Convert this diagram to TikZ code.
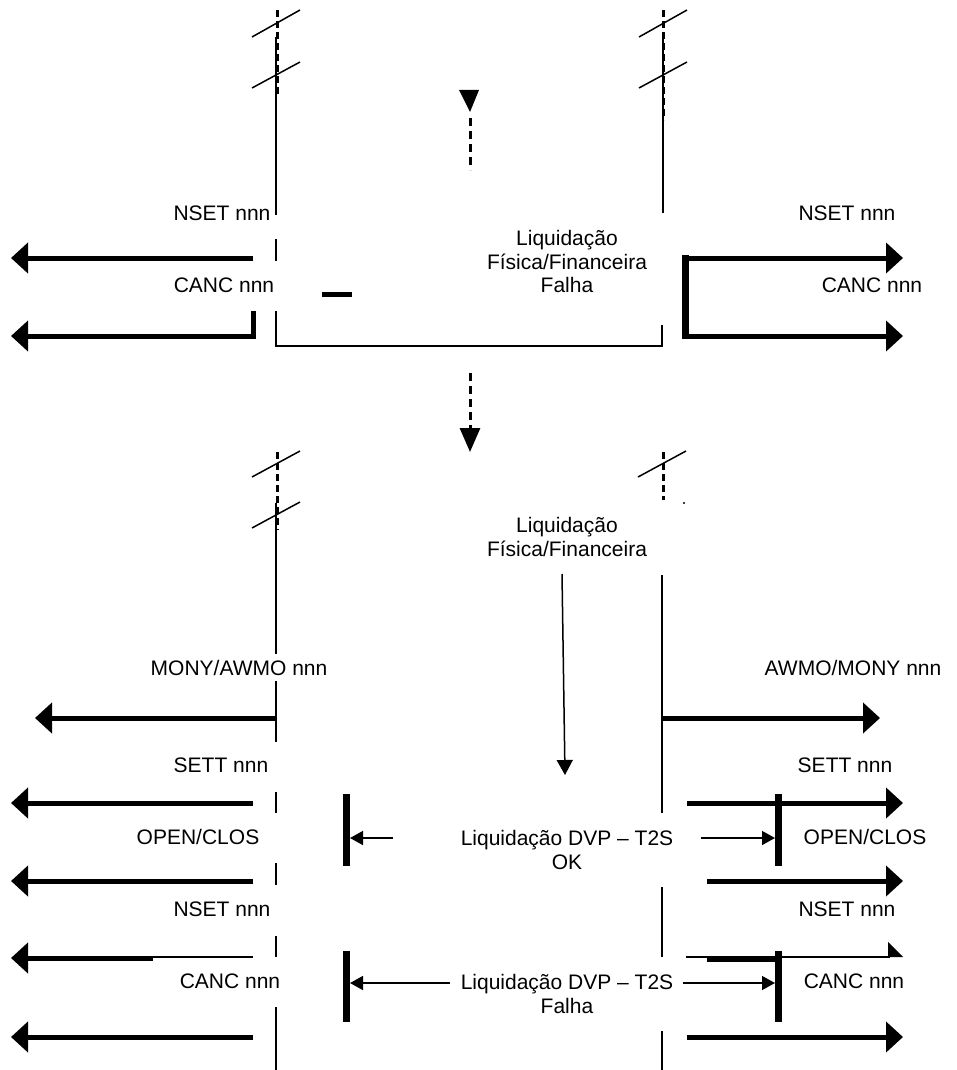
\documentclass[tikz,border=0pt]{standalone}
\usepackage{fontspec}
\setmainfont{Liberation Sans}
\usetikzlibrary{arrows.meta}
\tikzset{
	msg/.style={line width=5pt, -{Triangle[length=17pt,width=30pt]}},
	thinarr/.style={line width=1.5pt, -{Triangle[length=13pt,width=14pt]}},
	bar/.style={line width=7pt},
	life/.style={line width=1.5pt},
	dlife/.style={line width=3pt, dash pattern=on 7pt off 4pt},
	cut/.style={line width=1.5pt},
	lbl/.style={font=\fontsize{21}{24}\selectfont, inner sep=0pt, anchor=base}
}

\begin{document}
\begin{tikzpicture}[x=1pt, y=-1pt, line join=miter]
	\useasboundingbox (0,0) rectangle (957,1070);
	% \draw[gray!30] (0,0) grid[step=50] (957,1070);

	% top: lifelines with cut marks
	\draw[life] (276,37) -- (276,215);
	\draw[dlife] (277,10) -- (277,95);
	\draw[life] (663,37) -- (663,213);
	\draw[dlife] (663,10) -- (663,120);
	\foreach \cx in {276,663} {
		\draw[cut] (\cx-24,37) -- (\cx+24,10);
		\draw[cut] (\cx-24,88) -- (\cx+24,62);
	}

	% dashed arrow (down)
	\fill (459,90) -- (479,90) -- (470,112) -- cycle;
	\draw[line width=3pt, dash pattern=on 8pt off 5pt] (470,118) -- (470,170);

	% box of the failed settlement
	\draw[life] (276,239) -- (276,261);
	\draw[life] (276,311) -- (276,346) -- (662,346) -- (662,325);

	\node[lbl] (nsetTL) at (222,220) {NSET nnn};
	\node[lbl] (cancTL) at (224,292) {CANC nnn};
	\node[lbl] (nsetTR) at (847,220) {NSET nnn};
	\node[lbl] (cancTR) at (872,292) {CANC nnn};
	\node[lbl] (liqT)  at (567,245) {Liquidação};
	\node[lbl] (fisT)  at (567,269) {Física/Financeira};
	\node[lbl] (falT)  at (567,292) {Falha};

	\draw[msg] (253,258) -- (11,258);
	\draw[msg] (253,311) -- (253,336) -- (11,336);
	\draw[line width=5pt] (322,294) -- (352,294);
	\draw[msg] (685,258) -- (903,258);
	\draw[msg] (685,336) -- (903,336);
	\draw[line width=7pt] (685,255) -- (685,339);

	% second dashed arrow
	\draw[line width=3pt, dash pattern=on 8pt off 5pt, -{Triangle[length=24pt,width=20pt]}] (470,373) -- (470,452);

	% middle: lifelines with cut marks
	\draw[dlife] (277,452) -- (277,530);
	\draw[life] (276,503) -- (276,742);
	\draw[cut] (252,477) -- (300,451);
	\draw[cut] (252,528) -- (300,502);
	\draw[dlife] (663,452) -- (663,500);
	\draw[cut] (638,477) -- (686,451);
	\fill (684,503) circle (1.2pt);
	\draw[life] (662,575) -- (662,813);

	\node[lbl] (liqM) at (567,532) {Liquidação};
	\node[lbl] (fisM) at (567,556) {Física/Financeira};
	\draw[line width=1.5pt, -{Triangle[length=15pt,width=16pt]}] (562,574) -- (565,775);

	\node[lbl, fill=white, inner ysep=6pt] (monyL) at (239,675) {MONY/AWMO nnn};
	\node[lbl] (awmoR) at (853,675) {AWMO/MONY nnn};
	\draw[msg] (276,718) -- (35,718);
	\draw[msg] (663,718) -- (880,718);

	% bottom: broken lifelines
	\foreach \ya/\yb in {792/813, 863/885, 936/957, 1007/1070}
		\draw[life] (276,\ya) -- (276,\yb);
	\foreach \ya/\yb in {887/957, 1031/1070}
		\draw[life] (662,\ya) -- (662,\yb);

	\node[lbl] (settL) at (221,772) {SETT nnn};
	\node[lbl] (settR) at (845,772) {SETT nnn};
	\node[lbl] (openL) at (198,844) {OPEN/CLOS};
	\node[lbl] (openR) at (865,844) {OPEN/CLOS};
	\node[lbl] (dvpOK) at (567,845) {Liquidação DVP – T2S};
	\node[lbl] (okB)   at (567,869) {OK};
	\node[lbl] (nsetL) at (222,916) {NSET nnn};
	\node[lbl] (nsetR) at (847,916) {NSET nnn};
	\node[lbl] (cancL) at (230,988) {CANC nnn};
	\node[lbl] (cancR) at (854,988) {CANC nnn};
	\node[lbl] (dvpF)  at (567,989) {Liquidação DVP – T2S};
	\node[lbl] (falB)  at (567,1013) {Falha};

	\foreach \y in {803,881,1037}
		\draw[msg] (253,\y) -- (11,\y);
	\draw[msg] (153,958) -- (11,958);
	\draw[line width=1.5pt] (153,957) -- (253,957);

	\draw[msg] (687,803) -- (903,803);
	\draw[msg] (707,881) -- (903,881);
	\draw[msg] (687,1037) -- (903,1037);
	\draw[line width=1.5pt] (686,957) -- (890,957);
	\fill (888,942) -- (903,957) -- (888,957) -- cycle;
	\draw[line width=5pt] (707,959) -- (778,959);

	\draw[thinarr] (393,838) -- (350,838);
	\draw[thinarr] (701,838) -- (775,838);
	\draw[thinarr] (450,983) -- (350,983);
	\draw[thinarr] (683,983) -- (775,983);
	\draw[bar] (346,794) -- (346,866);
	\draw[bar] (778,794) -- (778,866);
	\draw[bar] (346,951) -- (346,1022);
	\draw[bar] (778,951) -- (778,1022);

\end{tikzpicture}
\end{document}
